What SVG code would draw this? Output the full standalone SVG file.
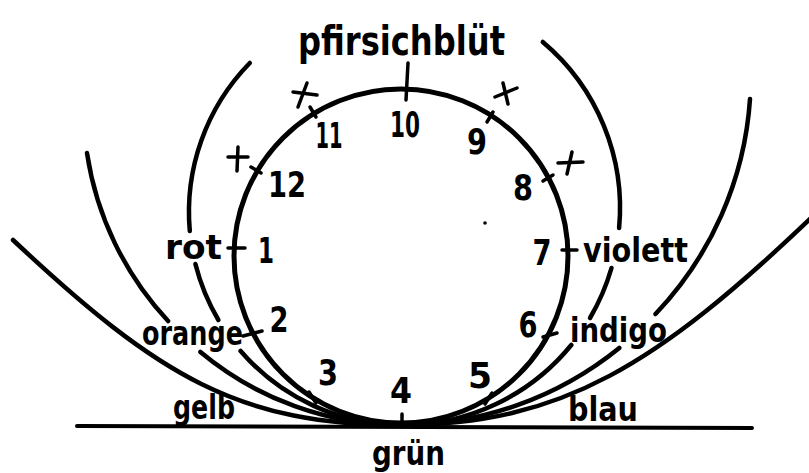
<svg xmlns="http://www.w3.org/2000/svg" width="809" height="473" viewBox="0 0 809 473">
<style>
.ln{fill:none;stroke:#000;stroke-linecap:round;stroke-linejoin:round}
.c{stroke-width:5}
.o{stroke-width:4.5}
.t{stroke-width:3.5}
.tx{font-family:"DejaVu Sans","Liberation Sans",sans-serif;font-weight:bold;fill:#000}
.w{font-size:33px}
.d{font-size:35px;text-anchor:middle}
</style>
<rect width="809" height="473" fill="#fff"/>
<g id="connectors">
  <line id="ground" class="ln" x1="77" y1="426" x2="752" y2="428" stroke-width="4"/>
  <g id="curve-rot">
    <path class="ln o" d="M249.8,63 A213,213 0 0 0 189.8,231"/>
    <path class="ln o" d="M195.4,264 A213,213 0 0 0 218.4,320"/>
    <path class="ln o" d="M240.6,351 A213,213 0 0 0 402,425"/>
  </g>
  <g id="curve-orange">
    <path class="ln o" d="M87,153 A315,315 0 0 0 168.1,321"/>
    <path class="ln o" d="M200.4,352 A315,315 0 0 0 402,425"/>
  </g>
  <path id="curve-gelb" class="ln o" d="M13,240 C160,378 240,425 402,425"/>
  <g id="curve-violett">
    <path class="ln o" d="M542.8,42 A217,217 0 0 1 619.1,228"/>
    <path class="ln o" d="M611.5,268 A217,217 0 0 1 590,318"/>
    <path class="ln o" d="M571.3,345 A217,217 0 0 1 403,425"/>
  </g>
  <g id="curve-indigo">
    <path class="ln o" d="M750,99 A345,345 0 0 1 655.5,314"/>
    <path class="ln o" d="M619.3,348 A345,345 0 0 1 402,425"/>
  </g>
  <path id="curve-blau" class="ln o" d="M811,218 C659,363 562,425 402,425"/>
</g>
<g id="circle">
  <circle class="ln c" cx="401" cy="256" r="167"/>
</g>
<g id="ticks">
  <line class="ln t" x1="408" y1="63" x2="406" y2="100"/>
  <line class="ln t" x1="310" y1="107" x2="316" y2="117"/>
  <line class="ln t" x1="251" y1="167" x2="261" y2="173"/>
  <line class="ln t" x1="493" y1="112" x2="487" y2="122"/>
  <line class="ln t" x1="553" y1="175" x2="543" y2="181"/>
  <line class="ln t" x1="228" y1="248" x2="245" y2="248"/>
  <line class="ln t" x1="562" y1="250" x2="577" y2="250"/>
  <line class="ln t" x1="243" y1="336" x2="262" y2="331"/>
  <line class="ln t" x1="543" y1="337" x2="557" y2="333"/>
  <line class="ln t" x1="309" y1="392" x2="316" y2="403"/>
  <line class="ln t" x1="402" y1="414" x2="402" y2="423"/>
  <line class="ln t" x1="492" y1="393" x2="485" y2="404"/>
</g>
<g id="marks">
  <g id="mark-11"><line class="ln t" x1="293" y1="92" x2="317" y2="95"/><line class="ln t" x1="307" y1="83" x2="298" y2="107"/></g>
  <g id="mark-12"><line class="ln t" x1="228" y1="157" x2="248" y2="157"/><line class="ln t" x1="238" y1="147" x2="237" y2="171"/></g>
  <g id="mark-9"><line class="ln t" x1="495" y1="97" x2="517" y2="88"/><line class="ln t" x1="503" y1="83" x2="508" y2="104"/></g>
  <g id="mark-8"><line class="ln t" x1="558" y1="163" x2="583" y2="162"/><line class="ln t" x1="572" y1="152" x2="567" y2="174"/></g>
  <circle cx="485" cy="223" r="1.8" fill="#000"/>
</g>
<g id="labels">
  <text class="tx" x="298" y="55" font-size="41" textLength="207" lengthAdjust="spacingAndGlyphs">pfirsichblüt</text>
  <text class="tx w" x="165" y="259" textLength="57" lengthAdjust="spacingAndGlyphs">rot</text>
  <text class="tx w" x="142" y="345" textLength="101" lengthAdjust="spacingAndGlyphs">orange</text>
  <text class="tx w" x="173" y="419" textLength="62" lengthAdjust="spacingAndGlyphs">gelb</text>
  <text class="tx w" x="372" y="465" textLength="73" lengthAdjust="spacingAndGlyphs">grün</text>
  <text class="tx w" x="568" y="421" textLength="70" lengthAdjust="spacingAndGlyphs">blau</text>
  <text class="tx w" x="583" y="262" textLength="105" lengthAdjust="spacingAndGlyphs">violett</text>
  <text class="tx w" x="570" y="342" textLength="97" lengthAdjust="spacingAndGlyphs">indigo</text>
</g>
<g id="numbers">
  <text class="tx d" x="405" y="137" textLength="30" lengthAdjust="spacingAndGlyphs">10</text>
  <text class="tx d" x="329" y="148" textLength="27" lengthAdjust="spacingAndGlyphs">11</text>
  <text class="tx d" x="477" y="154" textLength="20" lengthAdjust="spacingAndGlyphs">9</text>
  <text class="tx d" x="287" y="197" textLength="38" lengthAdjust="spacingAndGlyphs">12</text>
  <text class="tx d" x="523" y="200" textLength="20" lengthAdjust="spacingAndGlyphs">8</text>
  <text class="tx d" x="266" y="263" textLength="16" lengthAdjust="spacingAndGlyphs">1</text>
  <text class="tx d" x="542" y="265" textLength="19" lengthAdjust="spacingAndGlyphs">7</text>
  <text class="tx d" x="279" y="332" textLength="19" lengthAdjust="spacingAndGlyphs">2</text>
  <text class="tx d" x="528" y="337" textLength="19" lengthAdjust="spacingAndGlyphs">6</text>
  <text class="tx d" x="328" y="385" textLength="20" lengthAdjust="spacingAndGlyphs">3</text>
  <text class="tx d" x="401" y="403" textLength="22" lengthAdjust="spacingAndGlyphs">4</text>
  <text class="tx d" x="480" y="388" textLength="24" lengthAdjust="spacingAndGlyphs">5</text>
</g>
</svg>
